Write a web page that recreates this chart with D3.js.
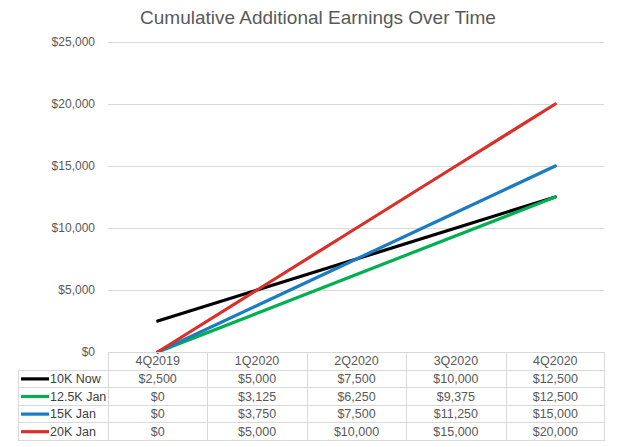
<!DOCTYPE html>
<html>
<head>
<meta charset="utf-8">
<script src="https://cdn.jsdelivr.net/npm/d3@7"></script>
<style>
  body { margin: 0; background: #fff; }
  svg { font-family: "Liberation Sans", Arial, sans-serif; }
</style>
</head>
<body>
<svg id="chart" width="636" height="447"></svg>
<script>
// chart data
const quarters = ["4Q2019", "1Q2020", "2Q2020", "3Q2020", "4Q2020"];
const seriesNames = ["10K Now", "12.5K Jan", "15K Jan", "20K Jan"];
const seriesColors = ["#000000", "#00b050", "#1a7cc1", "#d9302a"];
const tenKNow = [2500, 5000, 7500, 10000, 12500];
const twelveKJan = [0, 3125, 6250, 9375, 12500];
const fifteenKJan = [0, 3750, 7500, 11250, 15000];
const twentyKJan = [0, 5000, 10000, 15000, 20000];
const yTicks = [0, 5000, 10000, 15000, 20000, 25000];

const allValues = [tenKNow, twelveKJan, fifteenKJan, twentyKJan];

let svg = d3.select("#chart");
let plotLeft = 108, plotRight = 605, plotTop = 42, plotBottom = 352; // plot area
let rowH = 17.6;
let grey = "#595959";
let fmt = d3.format("$,");

// title
svg.append("text")
    .attr("x", 318).attr("y", 24)
    .attr("text-anchor", "middle")
    .attr("font-size", 19)
    .attr("fill", grey)
    .text("Cumulative Additional Earnings Over Time");

let x = d3.scaleBand().domain(quarters).range([plotLeft, plotRight]);
let y = d3.scaleLinear().domain([0, 25000]).range([plotBottom, plotTop]);

// gridlines + y labels
let yAxis = d3.axisLeft(y).tickValues(yTicks).tickFormat(fmt)
    .tickSize(-(plotRight - plotLeft - 1)).tickPadding(13);
let gy = svg.append("g").attr("transform", "translate(" + plotLeft + ",0)").call(yAxis);
gy.select(".domain").remove();
gy.selectAll("line").attr("stroke", "#d9d9d9");
gy.selectAll("text").attr("fill", grey).attr("font-size", 12)
    .attr("font-family", "Liberation Sans, Arial, sans-serif");

// lines
let line = d3.line()
    .x((d, i) => x(quarters[i]) + x.bandwidth() / 2)
    .y(d => y(d));

allValues.forEach(function(vals, s) {
    svg.append("path")
        .datum(vals)
        .attr("d", line)
        .attr("fill", "none")
        .attr("stroke", seriesColors[s])
        .attr("stroke-width", 3.2)
        .attr("stroke-linecap", "round");
});

// data table
let tbl = svg.append("g").attr("stroke", "#d9d9d9").attr("stroke-width", 1);
let tableLeft = 18;
let nRows = seriesNames.length;
// horizontal lines
tbl.append("line").attr("x1", plotLeft).attr("x2", plotRight).attr("y1", plotBottom + 0.5).attr("y2", plotBottom + 0.5);
for (let r = 1; r <= nRows + 1; r++) {
    let yy = Math.round(plotBottom + r * rowH) + 0.5;
    tbl.append("line").attr("x1", tableLeft).attr("x2", plotRight).attr("y1", yy).attr("y2", yy);
}
// vertical lines
let tBottom = Math.round(plotBottom + (nRows + 1) * rowH) + 0.5;
tbl.append("line").attr("x1", tableLeft + 0.5).attr("x2", tableLeft + 0.5)
    .attr("y1", Math.round(plotBottom + rowH) + 0.5).attr("y2", tBottom);
quarters.forEach(function(q) {
    let xx = Math.round(x(q)) + 0.5;
    tbl.append("line").attr("x1", xx).attr("x2", xx).attr("y1", plotBottom).attr("y2", tBottom);
});
tbl.append("line").attr("x1", plotRight - 0.5).attr("x2", plotRight - 0.5).attr("y1", plotBottom).attr("y2", tBottom);

// header text
svg.selectAll(".hdr").data(quarters).enter().append("text")
    .attr("x", d => x(d) + x.bandwidth() / 2)
    .attr("y", plotBottom + rowH / 2 + 4.5)
    .attr("text-anchor", "middle")
    .attr("font-size", 12.5)
    .attr("fill", grey)
    .text(d => d);

// rows
seriesNames.forEach(function(name, s) {
    let cy = plotBottom + (s + 1) * rowH + rowH / 2;
    svg.append("line")
        .attr("x1", 21).attr("x2", 49)
        .attr("y1", cy + 0.5).attr("y2", cy + 0.5)
        .attr("stroke", seriesColors[s]).attr("stroke-width", 3.2);
    svg.append("text")
        .attr("x", 50).attr("y", cy + 4.5)
        .attr("font-size", 12.5)
        .attr("fill", "#404040")
        .text(name);
    svg.selectAll(".v" + s).data(allValues[s]).enter().append("text")
        .attr("x", (d, i) => x(quarters[i]) + x.bandwidth() / 2)
        .attr("y", cy + 4.5)
        .attr("text-anchor", "middle")
        .attr("font-size", 12.5)
        .attr("fill", grey)
        .text(d => fmt(d));
});
</script>
</body>
</html>
